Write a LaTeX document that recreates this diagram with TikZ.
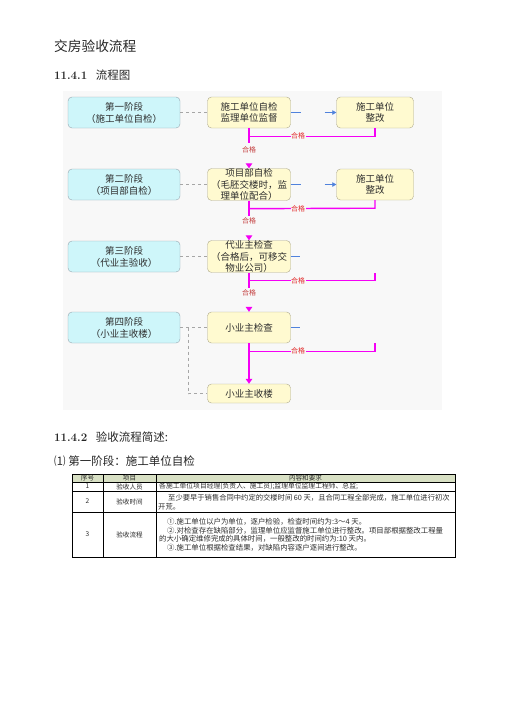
\documentclass[tikz,border=0pt]{standalone}
\usepackage{fontspec}
\newfontfamily\cjk{Noto Sans CJK SC}
\usetikzlibrary{arrows.meta,calc}
\definecolor{bgfill}{RGB}{248,248,248}
\definecolor{stagefill}{RGB}{206,246,250}
\definecolor{stagedraw}{RGB}{150,165,175}
\definecolor{midfill}{RGB}{255,250,208}
\definecolor{middraw}{RGB}{175,170,140}
\definecolor{pinkline}{RGB}{245,0,245}
\definecolor{blueline}{RGB}{80,130,220}
\definecolor{okred}{RGB}{195,60,60}
\definecolor{okred2}{RGB}{225,40,40}
\definecolor{headfill}{RGB}{216,224,196}
\definecolor{txtgray}{RGB}{45,45,45}
\begin{document}
\begin{tikzpicture}[x=1pt,y=-1pt,
  stagebox/.style={draw=stagedraw,fill=stagefill,rounded corners=4pt,minimum width=112pt,minimum height=31pt,inner sep=0pt,align=center,font=\cjk\fontsize{9.5}{12}\selectfont,text=txtgray},
  midbox/.style={draw=middraw,fill=midfill,rounded corners=4pt,minimum width=83pt,minimum height=31pt,inner sep=0pt,align=center,font=\cjk\fontsize{9.5}{11.5}\selectfont,text=txtgray},
  fixbox/.style={midbox,minimum width=77pt},
  dashline/.style={draw=gray!70,dashed,line width=0.6pt},
  pinkconn/.style={draw=pinkline,line width=1.4pt},
  blueconn/.style={draw=blueline,line width=0.8pt},
  oklabel/.style={inner sep=0.5pt,font=\cjk\fontsize{7}{8}\selectfont,text=okred},
  oklabelh/.style={inner sep=0.5pt,fill=bgfill,font=\cjk\fontsize{7}{8}\selectfont,text=okred2},
  headtxt/.style={inner sep=0pt,anchor=west,text=black!85},
  celltxt/.style={inner sep=0pt,text=txtgray,font=\cjk\fontsize{6.6}{8}\selectfont},
  linetxt/.style={inner sep=0pt,anchor=west,text=txtgray},
  tabline/.style={draw=black,line width=0.6pt}
]
\useasboundingbox (0,0) rectangle (504,713);
\fill[white] (0,0) rectangle (504,713);

% headings
\node[headtxt,font=\cjk\fontsize{13.7}{16}\selectfont] (title) at (54,46.5) {交房验收流程};
\node[headtxt] (h1) at (54,75) {\fontsize{11.5}{14}\selectfont\bfseries 11.4.1\ \ \cjk\mdseries 流程图};

% flowchart background
\fill[bgfill] (63,91) rectangle (442,410);

% stage boxes
\node[stagebox] (s1) at (124,112.5) {第一阶段\\（施工单位自检）};
\node[stagebox] (s2) at (124,184.5) {第二阶段\\（项目部自检）};
\node[stagebox] (s3) at (124,256.5) {第三阶段\\（代业主验收）};
\node[stagebox] (s4) at (124,327.5) {第四阶段\\（小业主收楼）};

% middle boxes
\node[midbox] (m1) at (249,112.5) {施工单位自检\\监理单位监督};
\node[midbox] (m2) at (249,184.5) {项目部自检\\（毛胚交楼时，监\\理单位配合）};
\node[midbox] (m3) at (249,256.5) {代业主检查\\（合格后，可移交\\物业公司）};
\node[midbox] (m4) at (249,327.5) {小业主检查};
\node[midbox,minimum height=19pt] (m5) at (249,393.5) {小业主收楼};

% right boxes
\node[fixbox] (r1) at (375,112.5) {施工单位\\整改};
\node[fixbox] (r2) at (375,184.5) {施工单位\\整改};

% dashed links
\draw[dashline] (s1.east) -- (m1.west);
\draw[dashline] (s2.east) -- (m2.west);
\draw[dashline] (s3.east) -- (m3.west);
\draw[dashline] (s4.east) -- (m4.west);
\draw[dashline] ($(s4.east)+(8,0)$) |- (m5.west);

% blue connectors
\draw[blueconn,dash pattern=on 10pt off 24pt on 30pt,-{Triangle[length=4pt,width=4.5pt]}] (m1.east) -- (r1.west);
\draw[blueconn,dash pattern=on 10pt off 24pt on 30pt,-{Triangle[length=4pt,width=4.5pt]}] (m2.east) -- (r2.west);
\draw[blueconn] (m3.east) -- ++(9,0) coordinate (b3);
\draw[blueconn] (m4.east) -- ++(9,0) coordinate (b4);

% pink vertical connectors
\draw[pinkconn,dash pattern=on 15pt off 40pt,-{Triangle[length=5pt,width=6.5pt]}] (m1.south) -- (m2.north);
\draw[pinkconn,dash pattern=on 15pt off 40pt,-{Triangle[length=5pt,width=6.5pt]}] (m2.south) -- (m3.north);
\draw[pinkconn,dash pattern=on 15pt off 40pt,-{Triangle[length=5pt,width=6.5pt]}] (m3.south) -- (m4.north);
\draw[pinkconn,-{Triangle[length=5pt,width=6.5pt]}] (m4.south) -- (m5.north);
\node[oklabel] (ok1) at ($(m1.south)+(0,21.5)$) {合格};
\node[oklabel] (ok2) at ($(m2.south)+(0,20.5)$) {合格};
\node[oklabel] (ok3) at ($(m3.south)+(0,20)$) {合格};

% pink horizontal branches
\draw[pinkconn] ($(m1.south)+(0,8)$) -- ($(r1.south)+(0,8)$) -- (r1.south);
\draw[pinkconn] ($(m2.south)+(0,8)$) -- ($(r2.south)+(0,8)$) -- (r2.south);
\draw[pinkconn] ($(m3.south)+(0,8)$) -- ($(m3.south -| r1.south)+(0,8)$) -- (m3.south -| r1.south);
\draw[pinkconn] ($(m4.south)+(0,8)$) -- ($(m4.south -| r1.south)+(0,8)$) -- (m4.south -| r1.south);
\node[oklabelh] (okh1) at ($(m1.south)+(49,8)$) {合格};
\node[oklabelh] (okh2) at ($(m2.south)+(49,8)$) {合格};
\node[oklabelh] (okh3) at ($(m3.south)+(49,8)$) {合格};
\node[oklabelh] (okh4) at ($(m4.south)+(49,8)$) {合格};

% lower headings
\node[headtxt] (h2) at (54,437) {\fontsize{11.5}{14}\selectfont\bfseries 11.4.2\ \ \cjk\mdseries 验收流程简述:};
\node[headtxt,font=\cjk\fontsize{11.5}{14}\selectfont] (h3) at (54,461) {⑴\ 第一阶段：施工单位自检};

% table
\fill[headfill] (72,474) rectangle (455,482);
\draw[tabline] (72,474) rectangle (455,557);
\draw[tabline] (72,482) -- (455,482);
\draw[tabline] (72,491) -- (455,491);
\draw[tabline] (72,512) -- (455,512);
\draw[tabline] (103,474) -- (103,557);
\draw[tabline] (156,474) -- (156,557);

\node[celltxt] (t00) at (87.5,478) {序号};
\node[celltxt] (t01) at (129.5,478) {项目};
\node[celltxt] (t02) at (305.5,478) {内容和要求};
\node[celltxt] (t10) at (87.5,486.5) {1};
\node[celltxt] (t11) at (129.5,486.5) {验收人员};
\node[linetxt,font=\cjk\fontsize{6.8}{8}\selectfont] (t12) at (159,486.5) {各施工单位项目经理(负责人、施工员);监理单位监理工程师、总监;};
\node[celltxt] (t20) at (87.5,501.5) {2};
\node[celltxt] (t21) at (129.5,501.5) {验收时间};
\node[linetxt,font=\cjk\fontsize{7.3}{8}\selectfont] (t22a) at (168,497.5) {至少要早于销售合同中约定的交楼时间 60 天，且合同工程全部完成，施工单位进行初次};
\node[linetxt,font=\cjk\fontsize{7.3}{8}\selectfont] (t22b) at (158,506.5) {开荒。};
\node[celltxt] (t30) at (87.5,534.5) {3};
\node[celltxt] (t31) at (129.5,534.5) {验收流程};
\node[linetxt,font=\cjk\fontsize{7.4}{8}\selectfont] (t32a) at (167,522) {①.施工单位以户为单位，逐户检验，检查时间约为:3～4 天。};
\node[linetxt,font=\cjk\fontsize{7.4}{8}\selectfont] (t32b) at (167,530.5) {②.对检查存在缺陷部分，监理单位应监督施工单位进行整改。项目部根据整改工程量};
\node[linetxt,font=\cjk\fontsize{7.4}{8}\selectfont] (t32c) at (159,539) {的大小确定维修完成的具体时间，一般整改的时间约为:10 天内。};
\node[linetxt,font=\cjk\fontsize{7.4}{8}\selectfont] (t32d) at (167,547.5) {③.施工单位根据检查结果，对缺陷内容逐户逐间进行整改。};
\end{tikzpicture}
\end{document}
